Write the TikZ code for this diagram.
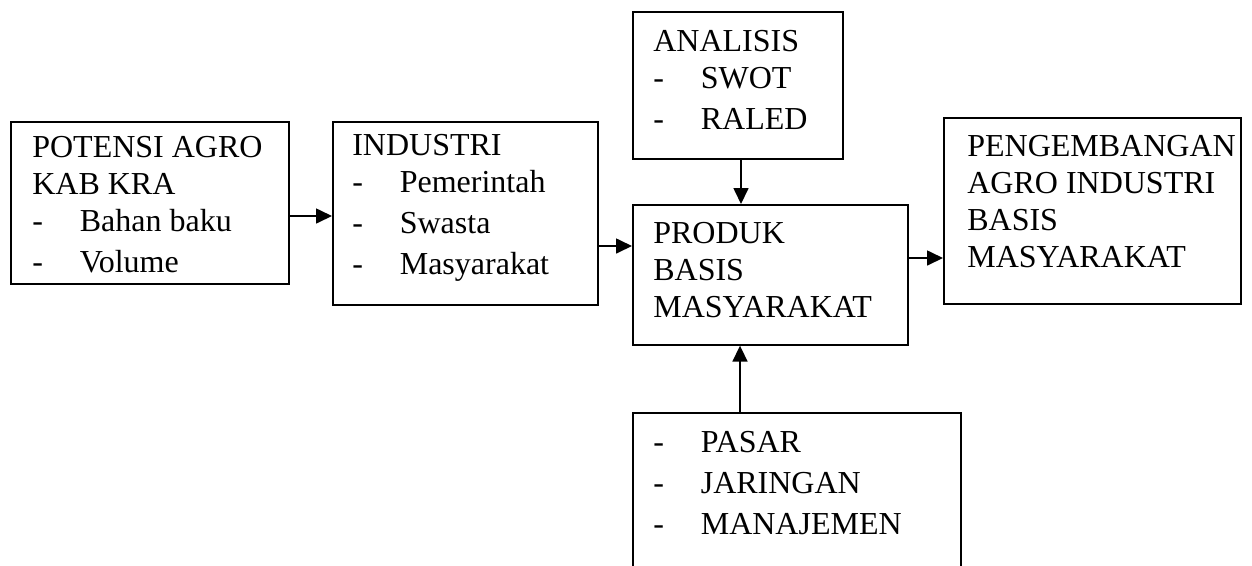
\documentclass[tikz,border=0pt]{standalone}
\usepackage{fontspec}
\setmainfont{Liberation Serif}
\usetikzlibrary{arrows.meta}

\tikzset{
  box/.style={draw,line width=1pt,inner sep=0pt,anchor=north west},
  txt/.style={anchor=north west,inner sep=0pt,align=left,
              font=\fontsize{19.2}{22.2}\selectfont},
  arr/.style={line width=1pt,-{Triangle[length=9.6pt,width=9pt]}}
}
\newcommand\itm[1]{\makebox[28.5pt][l]{-}#1}

\begin{document}
\begin{tikzpicture}[x=0.6pt,y=-0.6pt]
  \clip (0,0) rectangle (1252,565);
  % boxes: name / left / top / right / bottom (px)
  \foreach \n/\lx/\ty/\rx/\by in {pot/10/121/288/283, ind/332/121/597/304,
      ana/632/11/842/158, prod/632/204/907/344, peng/943/117/1240/303,
      pasar/632/412/960/600} {
    \pgfmathsetmacro\w{(\rx-\lx)*0.6}
    \pgfmathsetmacro\h{(\by-\ty)*0.6}
    \node[box,minimum width=\w pt,minimum height=\h pt] (\n) at (\lx,\ty) {};
  }
  \node[txt] (potT) at ([shift={(22,14.5)}]pot.north west)
    {POTENSI AGRO\\KAB KRA\\\itm{Bahan baku}\\[2.4pt]\itm{Volume}};
  \node[txt] (indT) at ([shift={(20,12.5)}]ind.north west)
    {INDUSTRI\\\itm{Pemerintah}\\[2.4pt]\itm{Swasta}\\[2.4pt]\itm{Masyarakat}};
  \node[txt] (anaT) at ([shift={(21,18.5)}]ana.north west)
    {ANALISIS\\\itm{SWOT}\\[2.4pt]\itm{RALED}};
  \node[txt] (prodT) at ([shift={(21,17.5)}]prod.north west)
    {PRODUK\\BASIS\\MASYARAKAT};
  \node[txt] (pengT) at ([shift={(24,17.5)}]peng.north west)
    {PENGEMBANGAN\\AGRO INDUSTRI\\BASIS\\MASYARAKAT};
  \node[txt] (pasarT) at ([shift={(21,18.5)}]pasar.north west)
    {\itm{PASAR}\\[2.4pt]\itm{JARINGAN}\\[2.4pt]\itm{MANAJEMEN}};

  \draw[arr] (pot.east |- 0,216) -- (ind.west |- 0,216);
  \draw[arr] (ind.east |- 0,246) -- (prod.west |- 0,246);
  \draw[arr] (ana.south -| 741,0) -- (prod.north -| 741,0);
  \draw[arr] (prod.east |- 0,258) -- (peng.west |- 0,258);
  \draw[arr] (pasar.north -| 740,0) -- (prod.south -| 740,0);
\end{tikzpicture}
\end{document}
